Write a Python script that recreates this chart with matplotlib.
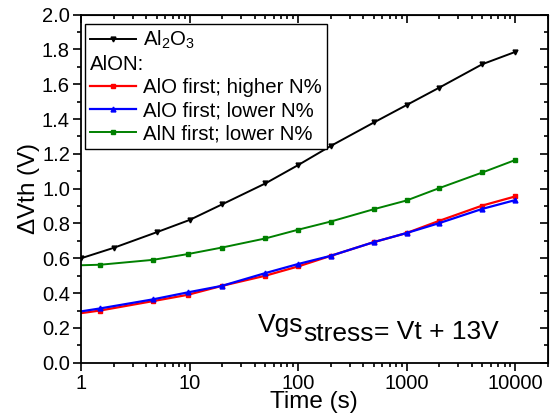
import matplotlib.pyplot as plt
from matplotlib.lines import Line2D

plt.rcParams['font.family'] = ['Liberation Sans', 'DejaVu Sans']
plt.rcParams['mathtext.fontset'] = 'custom'
plt.rcParams['mathtext.rm'] = 'Liberation Sans'
plt.rcParams['mathtext.it'] = 'Liberation Sans'

# stress time (s) and threshold voltage shift (V)
t_al2o3 = [1, 2, 5, 10, 20, 50, 100, 200, 500, 1000, 2000, 5000, 10000]
dvth_al2o3 = [0.60, 0.66, 0.75, 0.82, 0.91, 1.03, 1.135, 1.245, 1.38, 1.48, 1.58, 1.715, 1.785]

t_alon = [1, 1.5, 4.6, 9.6, 20, 50, 100, 200, 500, 1000, 2000, 5000, 10000]
dvth_alo_high = [0.285, 0.30, 0.354, 0.39, 0.442, 0.50, 0.553, 0.614, 0.693, 0.745, 0.815, 0.903, 0.955]
dvth_alo_low = [0.295, 0.312, 0.364, 0.404, 0.442, 0.515, 0.567, 0.614, 0.693, 0.745, 0.802, 0.884, 0.934]
dvth_aln_low = [0.56, 0.563, 0.591, 0.624, 0.662, 0.714, 0.764, 0.811, 0.882, 0.932, 1.003, 1.093, 1.164]

xticks = [1, 10, 100, 1000, 10000]
yticks = [0.0, 0.2, 0.4, 0.6, 0.8, 1.0, 1.2, 1.4, 1.6, 1.8, 2.0]
yminor = [0.1 + 0.2 * i for i in range(10)]

fig = plt.figure(figsize=(5.51, 4.16), dpi=100)
ax = fig.add_axes([0.147, 0.128, 0.847, 0.837])

h1, = ax.plot(t_al2o3, dvth_al2o3, color='black', marker='v', ms=3.5, lw=1.4)
skip = list(range(1, len(t_alon)))
h2, = ax.plot(t_alon, dvth_alo_high, color='red', marker='s', ms=3, lw=1.6, markevery=skip)
h3, = ax.plot(t_alon, dvth_alo_low, color='blue', marker='^', ms=3.5, lw=1.6, markevery=skip)
h4, = ax.plot(t_alon, dvth_aln_low, color='green', marker='s', ms=3, lw=1.4, markevery=skip)

ax.set_xscale('log')
ax.set_xlim(1, 20000)
ax.set_ylim(0, 2.0)
ax.set_yticks(yticks)
ax.set_yticks(yminor, minor=True)
ax.set_xticks(xticks)
ax.set_xticklabels([str(v) for v in xticks])
ax.yaxis.set_major_formatter(plt.FormatStrFormatter('%.1f'))

ax.tick_params(which='both', direction='out', labelsize=14.5, width=1.2, pad=2.5)
ax.tick_params(which='major', length=5.5)
ax.tick_params(which='minor', length=3)
for s in ax.spines.values():
    s.set_linewidth(1.3)

# mirrored ticks on top and right, pointing inward
top = ax.secondary_xaxis('top')
top.set_xticks(xticks)
top.tick_params(which='both', direction='in', labeltop=False, width=1.2)
top.tick_params(which='major', length=5.5)
top.tick_params(which='minor', length=3)
right = ax.secondary_yaxis('right')
right.set_yticks(yticks)
right.set_yticks(yminor, minor=True)
right.tick_params(which='both', direction='in', labelright=False, width=1.2)
right.tick_params(which='major', length=5.5)
right.tick_params(which='minor', length=3)

ax.set_xlabel('Time (s)', fontsize=17.5, labelpad=-1)
ax.set_ylabel('$\\Delta$Vth (V)', fontsize=17.5, labelpad=0)

blank = Line2D([], [], linestyle='none')
leg = ax.legend([h1, blank, h2, h3, h4],
                ['Al$_2$O$_3$', 'AlON:', 'AlO first; higher N%',
                 'AlO first; lower N%', 'AlN first; lower N%'],
                loc='upper left', bbox_to_anchor=(0.0, 0.985), fontsize=14.7,
                handlelength=2.25, handletextpad=0.33, labelspacing=0.2,
                borderpad=0.25, borderaxespad=0.2, fancybox=False,
                edgecolor='black', framealpha=1)
leg.get_frame().set_linewidth(1.0)
# header row starts where the line handles start
leg.get_texts()[1].set_x(-53)

# stress condition, subscript kept at full size
t1 = ax.text(0.379, 0.089, 'Vgs', transform=ax.transAxes, fontsize=19,
             ha='left', va='baseline')
t2 = ax.annotate('stress', xy=(1, 0), xycoords=t1, xytext=(0, -3),
                 textcoords='offset points', fontsize=19, ha='left', va='baseline')
ax.annotate('= Vt + 13V', xy=(1, 0), xycoords=t2, xytext=(0, 5),
            textcoords='offset points', fontsize=19, ha='left', va='baseline')

fig.savefig('out.png', dpi=100)
